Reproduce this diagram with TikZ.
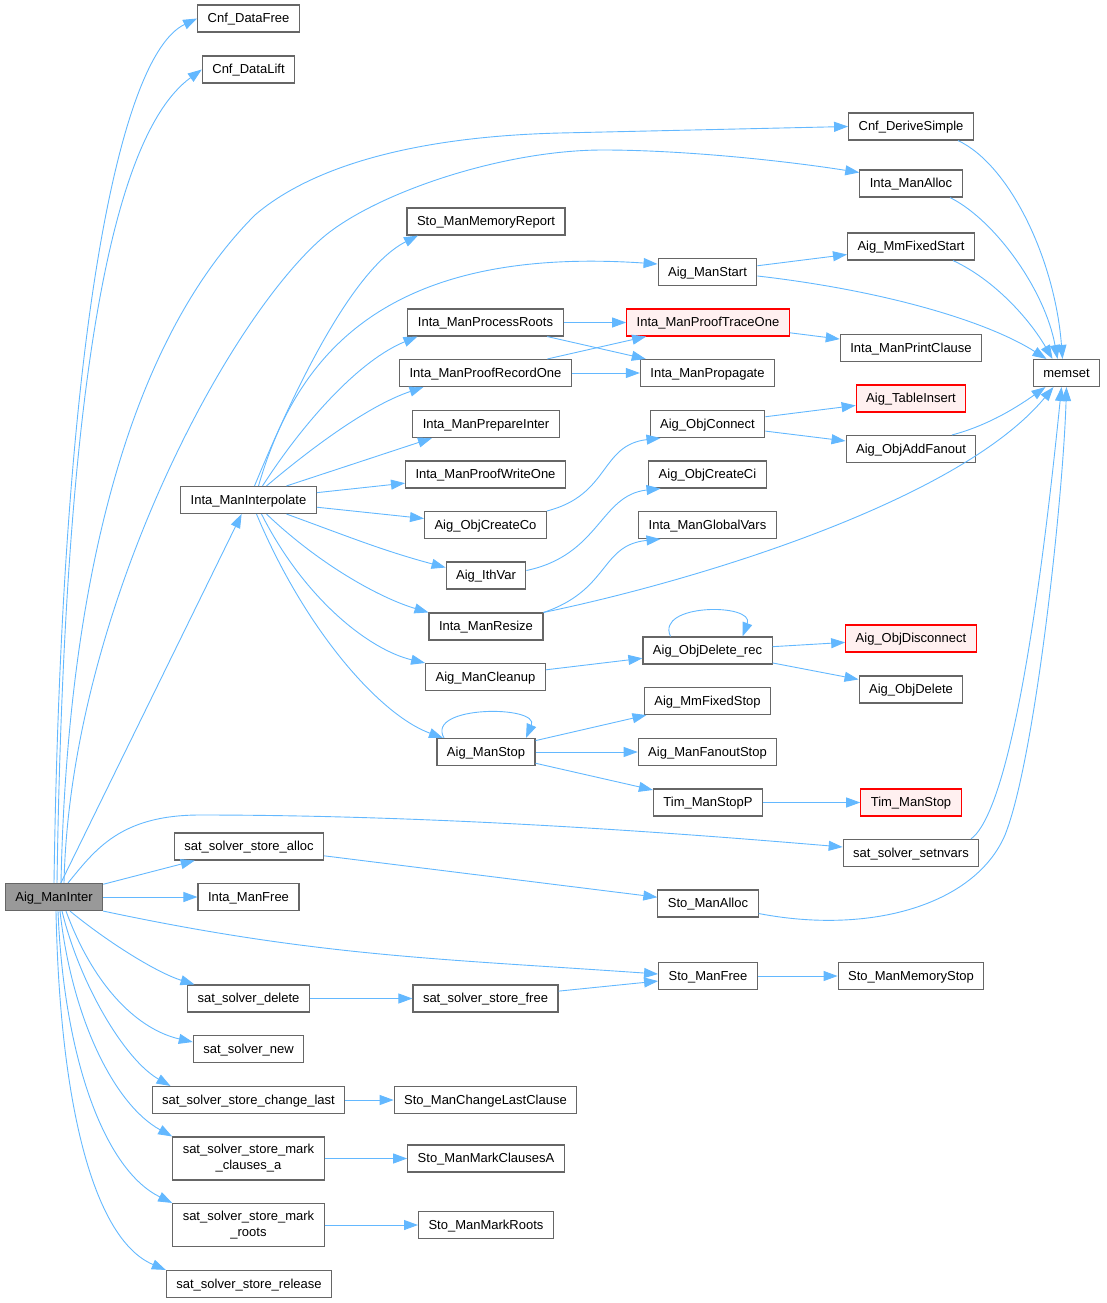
\documentclass[tikz,border=0pt]{standalone}
\usepackage{fontspec}
\setmainfont{Liberation Sans}
\usepackage{xcolor}
\usepackage{tikz}
\usetikzlibrary{arrows.meta}
\definecolor{callblue}{HTML}{63B8FF}
\definecolor{nodeline}{HTML}{666666}
\definecolor{rootfill}{HTML}{999999}
\definecolor{extline}{HTML}{FF0000}
\definecolor{extfill}{HTML}{FFF0F0}
\tikzset{
  fn box/.style={
    draw=nodeline,
    line width=1.1pt,
    fill=white,
    minimum height=27pt,
    inner xsep=10pt,
    inner ysep=3pt,
    font=\fontsize{13}{16}\selectfont,
    text height=10.5pt,
    text depth=2pt
  },
  fn root/.style={fn box, fill=rootfill},
  fn red/.style={fn box, draw=extline, fill=extfill},
  fn two/.style={fn box, minimum height=43pt, align=center, text height={}, text depth={}},
  call arrow/.style={
    -{Triangle[length=14pt,width=10pt]},
    line width=0.9pt,
    color=callblue
  }
}

\begin{document}
\begin{tikzpicture}[x=1pt, y=-1pt]
  \useasboundingbox (0,0) rectangle (1107,1303);

  % column of the caller
  \node[fn root] (aig) at (54,897) {Aig\_ManInter};

  % first column
  \node[fn box] (cdfree) at (248.5,18.5) {Cnf\_DataFree};
  \node[fn box] (cdlift) at (248.5,69.5) {Cnf\_DataLift};
  \node[fn box] (interp) at (248.5,500) {Inta\_ManInterpolate};
  \node[fn box] (ssalloc) at (249,846.5) {sat\_solver\_store\_alloc};
  \node[fn box] (imfree) at (248.5,897) {Inta\_ManFree};
  \node[fn box] (ssdel) at (248.5,998.5) {sat\_solver\_delete};
  \node[fn box] (ssnew) at (248.5,1049) {sat\_solver\_new};
  \node[fn box] (sschg) at (248.5,1100) {sat\_solver\_store\_change\_last};
  \node[fn two] (ssmarkc) at (248.5,1158.5) {sat\_solver\_store\_mark\\\_clauses\_a};
  \node[fn two] (ssmarkr) at (248.5,1225) {sat\_solver\_store\_mark\\\_roots};
  \node[fn box] (ssrel) at (249,1284) {sat\_solver\_store\_release};

  % second column
  \node[fn box] (memrep) at (486,221.5) {Sto\_ManMemoryReport};
  \node[fn box] (mroots) at (485.5,322.5) {Inta\_ManProcessRoots};
  \node[fn box] (precord) at (485.5,373) {Inta\_ManProofRecordOne};
  \node[fn box] (pinter) at (486,424) {Inta\_ManPrepareInter};
  \node[fn box] (pwrite) at (485.5,474.5) {Inta\_ManProofWriteOne};
  \node[fn box] (ocreateco) at (485.5,525) {Aig\_ObjCreateCo};
  \node[fn box] (ithvar) at (486,575.5) {Aig\_IthVar};
  \node[fn box] (mresize) at (486,626.5) {Inta\_ManResize};
  \node[fn box] (mcleanup) at (485.5,677) {Aig\_ManCleanup};
  \node[fn box] (mstop) at (486,752) {Aig\_ManStop};
  \node[fn box] (ssfree) at (485.5,998.5) {sat\_solver\_store\_free};
  \node[fn box] (chglast) at (485.5,1100) {Sto\_ManChangeLastClause};
  \node[fn box] (markca) at (486,1158.5) {Sto\_ManMarkClausesA};
  \node[fn box] (markr) at (486,1225) {Sto\_ManMarkRoots};

  % third column
  \node[fn box] (mstart) at (707.5,272) {Aig\_ManStart};
  \node[fn red] (ptrace) at (708,322.5) {Inta\_ManProofTraceOne};
  \node[fn box] (propag) at (707.5,373) {Inta\_ManPropagate};
  \node[fn box] (oconn) at (707.5,424) {Aig\_ObjConnect};
  \node[fn box] (ocreateci) at (707.5,474.5) {Aig\_ObjCreateCi};
  \node[fn box] (gvars) at (707.5,525) {Inta\_ManGlobalVars};
  \node[fn box] (odelrec) at (707.5,650.5) {Aig\_ObjDelete\_rec};
  \node[fn box] (mmfstop) at (707.5,701) {Aig\_MmFixedStop};
  \node[fn box] (fanstop) at (707.5,752) {Aig\_ManFanoutStop};
  \node[fn box] (tstopp) at (708,802.5) {Tim\_ManStopP};
  \node[fn box] (smalloc) at (708,903.5) {Sto\_ManAlloc};
  \node[fn box] (smfree) at (708,976) {Sto\_ManFree};

  % fourth column
  \node[fn box] (cdsimple) at (911,126.5) {Cnf\_DeriveSimple};
  \node[fn box] (imalloc) at (911,183.5) {Inta\_ManAlloc};
  \node[fn box] (mmfstart) at (911,246.5) {Aig\_MmFixedStart};
  \node[fn box] (pclause) at (911,348) {Inta\_ManPrintClause};
  \node[fn red] (tinsert) at (911,398.5) {Aig\_TableInsert};
  \node[fn box] (addfan) at (911,449) {Aig\_ObjAddFanout};
  \node[fn red] (odisc) at (911,638.5) {Aig\_ObjDisconnect};
  \node[fn box] (odel) at (911,689.5) {Aig\_ObjDelete};
  \node[fn red] (tstop) at (911,802.5) {Tim\_ManStop};
  \node[fn box] (setnv) at (911,853) {sat\_solver\_setnvars};
  \node[fn box] (smemstop) at (911,976) {Sto\_ManMemoryStop};

  \node[fn box] (memset) at (1066.5,373) {memset};

  % calls of Aig_ManInter
  \draw[call arrow] (aig.north) .. controls (62,330) and (120,55) .. (cdfree.west);
  \draw[call arrow] ([xshift=3pt]aig.north) .. controls (64,420) and (105,140) .. (cdlift.west);
  \draw[call arrow] ([xshift=7pt]aig.north) .. controls (66,640) and (110,360) .. (255,215)
    .. controls (305,172) and (400,137) .. (560,133) -- (cdsimple.west);
  \draw[call arrow] ([xshift=10pt]aig.north) .. controls (70,620) and (220,330) .. (320,240)
    .. controls (370,195) and (500,150) .. (603,150)
    .. controls (680,150) and (780,160) .. ([yshift=11pt]imalloc.west);
  \draw[call arrow] (aig) -- (interp);
  \draw[call arrow] ([xshift=14pt]aig.north) .. controls (95,850) and (120,815) .. (200,815)
    .. controls (450,815) and (700,835) .. ([yshift=6pt]setnv.west);
  \draw[call arrow] (aig) -- (ssalloc);
  \draw[call arrow] (aig) -- (imfree);
  \draw[call arrow] (aig.south east) to[out=-12,in=176] ([yshift=2pt]smfree.west);
  \draw[call arrow] ([xshift=16pt]aig.south) .. controls (105,940) and (155,972) .. ([xshift=-54pt]ssdel.north);
  \draw[call arrow] ([xshift=12pt]aig.south) .. controls (95,990) and (140,1030) .. ([yshift=7pt]ssnew.west);
  \draw[call arrow] ([xshift=8pt]aig.south) .. controls (80,985) and (125,1060) .. ([xshift=-78pt]sschg.north);
  \draw[call arrow] ([xshift=6pt]aig.south) .. controls (72,1020) and (115,1105) .. (ssmarkc.north west);
  \draw[call arrow] ([xshift=4pt]aig.south) .. controls (64,1060) and (105,1170) .. (ssmarkr.north west);
  \draw[call arrow] ([xshift=2pt]aig.south) .. controls (60,1110) and (95,1240) .. (ssrel.north west);

  % calls of Inta_ManInterpolate
  \draw[call arrow] ([xshift=6pt]interp.north) .. controls (290,400) and (350,270) .. ([xshift=-68pt]memrep.south);
  \draw[call arrow] ([xshift=10pt]interp.north) .. controls (295,360) and (380,245) .. ([yshift=8pt]mstart.west);
  \draw[call arrow] ([xshift=14pt]interp.north) .. controls (305,420) and (360,360) .. ([xshift=-68pt]mroots.south);
  \draw[call arrow] ([xshift=18pt]interp.north) .. controls (315,445) and (370,405) .. ([xshift=-62pt]precord.south);
  \draw[call arrow] ([xshift=38pt]interp.north) -- ([xshift=-54pt]pinter.south);
  \draw[call arrow] (interp) -- (pwrite);
  \draw[call arrow] (interp) -- (ocreateco);
  \draw[call arrow] ([xshift=38pt]interp.south) to[out=-20,in=165] ([yshift=8pt]ithvar.west);
  \draw[call arrow] ([xshift=18pt]interp.south) .. controls (320,565) and (380,598) .. (mresize.north west);
  \draw[call arrow] ([xshift=13pt]interp.south) .. controls (305,600) and (370,650) .. (mcleanup.north west);
  \draw[call arrow] ([xshift=8pt]interp.south) .. controls (305,630) and (380,715) .. ([xshift=-43pt]mstop.north);

  % deeper calls
  \draw[call arrow] (mroots) -- (ptrace);
  \draw[call arrow] (mroots) -- (propag);
  \draw[call arrow] (precord) -- (ptrace);
  \draw[call arrow] (precord) -- (propag);
  \draw[call arrow] (ptrace) -- (pclause);
  \draw[call arrow] (mstart) -- (mmfstart);
  \draw[call arrow] (ocreateco.north east) .. controls (610,495) and (600,445) .. ([xshift=-47pt]oconn.south);
  \draw[call arrow] ([yshift=5pt]ithvar.east) .. controls (600,555) and (600,495) .. ([xshift=-47pt]ocreateci.south);
  \draw[call arrow] (mresize.north east) .. controls (610,590) and (600,545) .. ([xshift=-47pt]gvars.south);
  \draw[call arrow] (oconn) -- (tinsert);
  \draw[call arrow] (oconn) -- (addfan);
  \draw[call arrow] (mcleanup) -- (odelrec);
  \draw[call arrow] ([xshift=-37pt]odelrec.north) .. controls (655,603) and (755,603) .. ([xshift=35pt]odelrec.north);
  \draw[call arrow] (odelrec) -- (odisc);
  \draw[call arrow] (odelrec) -- (odel);
  \draw[call arrow] ([xshift=-42pt]mstop.north) .. controls (425,705) and (540,705) .. ([xshift=40pt]mstop.north);
  \draw[call arrow] (mstop) -- (mmfstop);
  \draw[call arrow] (mstop) -- (fanstop);
  \draw[call arrow] (mstop) -- (tstopp);
  \draw[call arrow] (tstopp) -- (tstop);
  \draw[call arrow] (ssalloc) -- (smalloc);
  \draw[call arrow] (ssdel) -- (ssfree);
  \draw[call arrow] (ssfree) -- (smfree);
  \draw[call arrow] (smfree) -- (smemstop);
  \draw[call arrow] (sschg) -- (chglast);
  \draw[call arrow] (ssmarkc) -- (markca);
  \draw[call arrow] (ssmarkr) -- (markr);

  % everything into memset
  \draw[call arrow] ([xshift=47pt]cdsimple.south) .. controls (1010,165) and (1055,260) .. ([xshift=-4pt]memset.north);
  \draw[call arrow] ([xshift=39pt]imalloc.south) .. controls (995,220) and (1045,290) .. ([xshift=-9pt]memset.north);
  \draw[call arrow] ([xshift=42pt]mmfstart.south) .. controls (995,280) and (1030,320) .. ([xshift=-14pt]memset.north);
  \draw[call arrow] ([yshift=-4pt]mstart.east) .. controls (880,290) and (985,320) .. ([xshift=-20pt]memset.north);
  \draw[call arrow] ([xshift=41pt]addfan.north) .. controls (990,425) and (1020,405) .. ([xshift=-21pt]memset.south);
  \draw[call arrow] (mresize.north east) .. controls (700,580) and (960,500) .. ([xshift=-13pt]memset.south);
  \draw[call arrow] ([xshift=60pt]setnv.north) .. controls (1010,810) and (1040,600) .. ([xshift=-5pt]memset.south);
  \draw[call arrow] ([yshift=-10pt]smalloc.east) .. controls (870,935) and (975,905) .. (1005,835)
    .. controls (1035,760) and (1063,500) .. (memset.south);
\end{tikzpicture}
\end{document}
